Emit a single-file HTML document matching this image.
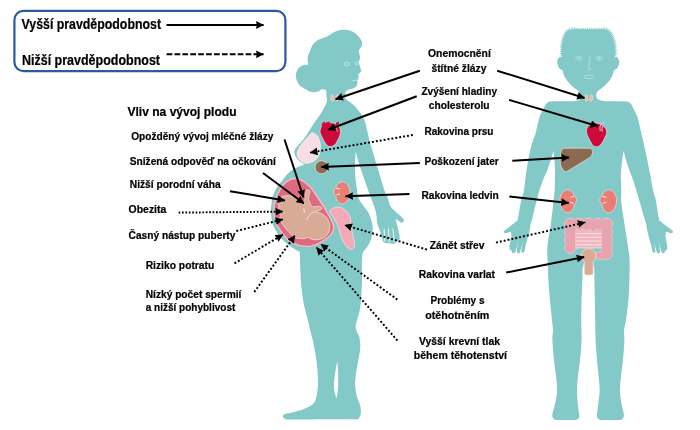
<!DOCTYPE html>
<html><head><meta charset="utf-8">
<style>
html,body{margin:0;padding:0;background:#fff;}
body{width:700px;height:430px;overflow:hidden;}
svg{display:block;will-change:transform;}
text{font-family:"Liberation Sans",sans-serif;font-weight:bold;fill:#000;stroke:#000;stroke-width:0.22px;}
</style></head><body>
<svg width="700" height="430" viewBox="0 0 700 430">
<defs>
<marker id="ah" viewBox="0 0 8 8" refX="7.7" refY="4" markerWidth="7.8" markerHeight="8" markerUnits="userSpaceOnUse" orient="auto"><path d="M0,0 L8,4 L0,8 L0.6,4 Z" fill="#000" stroke="none"/></marker>
<marker id="ah2" viewBox="0 0 8 8" refX="7.7" refY="4" markerWidth="8" markerHeight="7.8" markerUnits="userSpaceOnUse" orient="auto"><path d="M0,0 L8,4 L0,8 L0.5,4 Z" fill="#000" stroke="none"/></marker>
<marker id="ah3" viewBox="0 0 8 8" refX="7.7" refY="4" markerWidth="7.8" markerHeight="7.8" markerUnits="userSpaceOnUse" orient="auto"><path d="M0,0 L8,4 L0,8 L0.4,4 Z" fill="#000" stroke="none"/></marker>
</defs>
<rect width="700" height="430" fill="#fff"/>
<!-- legend -->
<rect x="14.4" y="10.9" width="271" height="60.2" rx="9" ry="9" fill="#fff" stroke="#2c5c97" stroke-width="2.2"/>
<text x="21.5" y="29" font-size="14.4" textLength="139.5" lengthAdjust="spacingAndGlyphs">Vyšší pravděpodobnost</text>
<text x="22" y="64.5" font-size="14.4" textLength="138" lengthAdjust="spacingAndGlyphs">Nižší pravděpodobnost</text>
<line x1="166.5" y1="25" x2="263.6" y2="25" stroke="#000" stroke-width="1.9" marker-end="url(#ah)"/>
<line x1="166.6" y1="54.3" x2="263.6" y2="54.3" stroke="#000" stroke-width="1.9" stroke-dasharray="5.7 2.2" marker-end="url(#ah)"/>

<!-- woman -->
<path d="M326.8,101.7 C327.6,98.9 326.5,97.9 326.4,96.0 C326.3,94.1 326.3,90.4 326.3,90.4 C326.3,90.4 323.6,89.1 322.2,89.3 C320.8,89.5 319.6,91.0 318.0,91.5 C316.4,92.0 314.5,92.4 312.9,92.3 C311.3,92.2 309.8,91.5 308.5,91.0 C307.2,90.5 305.4,89.1 305.4,89.1 C305.4,89.1 300.5,86.7 298.9,84.5 C297.3,82.3 295.9,78.7 295.8,76.1 C295.7,73.5 296.7,70.5 298.0,68.7 C299.3,66.9 301.9,65.6 303.6,65.0 C305.3,64.4 308.2,65.2 308.2,65.2 C308.2,65.2 307.4,59.6 307.6,57.5 C307.8,55.4 308.5,54.6 309.4,52.4 C310.3,50.2 311.6,46.4 312.9,44.4 C314.2,42.4 316.1,41.3 317.4,40.4 C318.7,39.5 319.6,39.4 320.5,39.0 C321.4,38.6 322.0,38.5 323.1,38.1 C324.2,37.7 325.9,37.2 327.0,36.6 C328.1,36.0 328.7,35.5 330.0,34.7 C331.3,33.9 333.2,32.6 334.6,31.9 C336.0,31.2 337.2,30.9 338.5,30.5 C339.8,30.1 341.1,29.9 342.6,29.8 C344.1,29.7 346.0,29.9 347.5,30.1 C349.0,30.4 350.4,30.7 351.7,31.3 C353.0,31.9 354.4,32.6 355.5,33.5 C356.6,34.4 357.7,35.4 358.6,36.4 C359.5,37.4 360.2,38.5 360.8,39.5 C361.4,40.5 361.8,41.2 362.0,42.1 C362.2,43.0 362.0,44.0 361.9,44.8 C361.8,45.6 361.7,45.9 361.2,46.9 C360.7,47.9 359.1,49.3 358.8,50.6 C358.5,51.9 359.3,53.4 359.5,54.7 C359.7,56.0 360.3,57.2 360.2,58.4 C360.1,59.6 358.8,60.2 358.8,61.8 C358.8,63.4 359.9,66.2 360.3,67.8 C360.7,69.3 361.4,70.1 361.2,71.1 C361.0,72.1 359.5,72.9 359.0,73.7 C358.5,74.5 358.3,75.4 358.2,76.1 C358.1,76.8 358.7,77.3 358.6,78.0 C358.5,78.7 357.8,79.3 357.5,80.4 C357.2,81.5 357.6,83.3 357.1,84.5 C356.6,85.7 356.0,87.0 354.7,87.8 C353.4,88.6 350.6,89.0 349.1,89.6 C347.6,90.2 345.6,91.6 345.6,91.6 C345.6,91.6 345.3,94.5 345.2,95.6 C345.1,96.7 344.1,97.0 344.8,98.0 C345.5,99.0 347.8,100.4 349.4,101.7 C351.0,103.0 352.9,104.5 354.5,106.1 C356.1,107.7 357.5,109.4 358.8,111.1 C360.1,112.8 361.2,113.9 362.4,116.1 C363.5,118.2 364.6,120.1 365.7,124.0 C366.8,127.9 368.1,135.2 369.2,139.6 C370.3,144.0 370.9,145.4 372.4,150.5 C373.9,155.6 376.2,163.7 378.3,170.4 C380.4,177.1 383.2,186.5 384.7,190.9 C386.2,195.3 386.4,194.3 387.4,196.9 C388.4,199.5 389.0,203.8 390.6,206.5 C392.2,209.2 395.0,211.0 397.0,212.9 C399.0,214.8 401.6,216.7 402.7,218.0 C403.8,219.3 404.0,219.8 403.9,220.6 C403.8,221.4 402.8,222.6 402.1,222.7 C401.4,222.8 400.6,222.1 399.5,221.4 C398.4,220.7 395.7,218.7 395.7,218.7 C395.7,218.7 397.0,224.1 397.6,227.0 C398.2,229.9 399.2,233.8 399.5,235.9 C399.8,238.0 399.6,238.9 399.3,239.8 C399.0,240.7 398.3,240.9 397.8,241.2 C397.3,241.5 396.7,241.5 396.3,241.8 C395.9,242.1 396.0,242.8 395.5,243.2 C395.0,243.5 394.2,243.8 393.5,243.9 C392.8,244.0 391.7,243.7 391.0,243.6 C390.3,243.5 390.0,243.5 389.3,243.4 C388.6,243.3 387.7,243.3 387.0,243.2 C386.3,243.1 385.6,243.1 385.0,242.9 C384.4,242.7 383.8,242.5 383.4,242.0 C383.0,241.5 383.2,241.5 382.7,239.8 C382.2,238.1 381.2,234.8 380.3,232.0 C379.4,229.2 377.7,225.8 377.1,223.0 C376.5,220.2 376.9,217.8 376.5,215.5 C376.1,213.2 375.9,211.8 375.0,209.0 C374.1,206.2 372.3,201.4 371.4,198.8 C370.5,196.2 370.8,197.4 369.4,193.5 C368.0,189.6 364.8,180.8 363.0,175.6 C361.2,170.3 359.7,166.1 358.5,162.0 C357.3,157.9 355.8,151.2 355.8,151.2 C355.8,151.2 355.2,157.9 355.1,162.0 C355.0,166.1 355.1,171.4 355.3,175.6 C355.6,179.8 356.1,183.3 356.6,187.0 C357.1,190.7 357.5,195.0 358.5,198.0 C359.5,201.0 361.2,202.7 362.8,205.0 C364.4,207.3 366.6,209.7 368.0,212.0 C369.4,214.3 370.2,216.5 371.0,219.0 C371.8,221.5 372.5,224.3 372.7,227.0 C372.9,229.7 372.6,232.4 372.1,235.0 C371.6,237.6 370.7,240.4 369.8,242.5 C368.9,244.6 367.9,245.8 366.8,247.5 C365.7,249.2 363.8,250.0 363.0,252.5 C362.2,255.0 362.1,256.9 361.9,262.3 C361.7,267.7 362.2,277.2 361.9,284.6 C361.6,292.1 361.1,301.1 360.3,307.0 C359.5,312.9 357.8,317.0 357.0,320.3 C356.2,323.6 355.6,324.9 355.7,327.0 C355.8,329.1 356.8,331.4 357.4,333.0 C358.0,334.6 358.7,334.0 359.2,336.5 C359.7,339.0 360.5,343.7 360.3,347.8 C360.1,351.9 358.8,356.7 358.1,361.2 C357.4,365.7 356.4,370.5 355.9,374.6 C355.4,378.7 355.0,382.1 355.2,385.8 C355.4,389.5 356.1,393.6 357.0,396.9 C357.9,400.2 359.7,402.8 360.3,405.8 C360.9,408.8 361.0,412.6 360.6,414.8 C360.2,417.0 358.1,419.2 358.1,419.2 C358.1,419.2 285.6,419.4 285.6,419.4 C285.6,419.4 283.1,417.6 282.9,416.8 C282.7,416.0 282.9,415.0 284.5,414.3 C286.1,413.6 289.1,413.4 292.3,412.5 C295.5,411.6 300.0,410.7 303.5,409.2 C307.0,407.7 311.3,406.0 313.5,403.6 C315.7,401.2 316.1,398.4 316.8,394.7 C317.6,391.0 318.0,386.5 318.0,381.3 C318.0,376.1 317.6,369.8 316.8,363.5 C316.1,357.2 314.6,349.0 313.5,343.4 C312.4,337.8 311.3,334.6 310.2,330.0 C309.1,325.4 307.9,320.4 306.8,315.8 C305.7,311.2 304.4,307.7 303.5,302.5 C302.6,297.3 301.8,291.3 301.2,284.6 C300.6,277.9 300.3,267.7 300.1,262.3 C299.9,256.9 300.0,252.0 300.0,252.0 C300.0,252.0 295.5,249.7 293.0,248.0 C290.5,246.3 287.5,244.3 285.0,242.0 C282.5,239.7 279.9,236.7 278.0,234.0 C276.1,231.3 274.6,228.7 273.5,226.0 C272.4,223.3 271.9,220.7 271.5,218.0 C271.1,215.3 271.0,212.5 271.0,210.0 C271.0,207.5 271.2,205.3 271.5,203.0 C271.8,200.7 272.3,198.2 273.0,196.0 C273.7,193.8 274.7,191.7 275.5,190.0 C276.3,188.3 276.9,187.5 278.0,186.0 C279.1,184.5 280.6,182.8 282.0,181.0 C283.4,179.2 284.8,176.8 286.5,175.0 C288.2,173.2 290.1,171.3 292.0,170.0 C293.9,168.7 295.9,167.9 298.0,167.0 C300.1,166.1 304.5,164.8 304.5,164.8 C304.5,164.8 299.5,161.4 297.8,159.5 C296.1,157.6 294.9,155.2 294.5,153.4 C294.1,151.6 294.3,150.6 295.6,148.5 C296.9,146.4 300.2,143.3 302.3,140.7 C304.4,138.1 306.0,135.7 307.9,132.9 C309.8,130.1 311.3,127.3 313.5,124.0 C315.7,120.7 319.1,116.5 321.3,112.8 C323.5,109.1 326.0,104.5 326.8,101.7 Z" fill="#82c9c8"/>
<path d="M337.4,361.2 C337.4,361.2 336.1,366.6 335.6,370.0 C335.1,373.4 334.4,378.0 334.2,381.3 C334.0,384.6 333.8,387.1 334.2,390.0 C334.6,392.9 336.5,398.5 336.5,398.5 C336.5,398.5 337.7,392.9 338.0,390.0 C338.3,387.1 338.2,384.2 338.2,381.0 C338.2,377.8 338.1,374.3 338.0,371.0 C337.9,367.7 337.4,361.2 337.4,361.2 Z" fill="#fff"/>
<path d="M392.9,228.9 L394.4,242 M388.4,228.9 L389.2,242 M384.2,229.5 L384.6,241" stroke="#fff" stroke-width="0.9" fill="none" stroke-linecap="round"/>
<g fill="none" stroke="#d4eeed" stroke-width="0.8"><ellipse cx="346.8" cy="64" rx="2.8" ry="1.6"/><ellipse cx="356.6" cy="63.2" rx="1.6" ry="1.4"/><path d="M352.5,80.8 L357,80"/></g>
<!-- man -->
<path d="M579.0,100.1 C579.8,99.6 580.1,99.0 580.3,98.0 C580.5,97.0 580.2,95.1 580.0,94.0 C579.8,92.9 579.8,92.5 579.0,91.6 C578.2,90.7 576.2,89.6 575.0,88.6 C573.8,87.6 572.8,86.9 571.5,85.6 C570.2,84.3 568.2,82.2 567.0,80.6 C565.8,79.0 565.0,77.7 564.2,76.0 C563.4,74.3 563.2,71.5 562.3,70.2 C561.4,68.9 559.9,69.5 559.0,68.0 C558.1,66.5 557.1,63.1 557.2,61.3 C557.3,59.5 558.8,57.6 559.5,57.0 C560.2,56.4 561.7,57.5 561.7,57.5 C561.7,57.5 562.0,52.6 562.2,50.0 C562.5,47.4 562.7,44.3 563.2,42.0 C563.7,39.7 564.5,37.7 565.4,36.0 C566.3,34.3 567.2,32.9 568.5,32.0 C569.8,31.1 571.1,30.8 573.0,30.5 C574.9,30.2 577.4,30.3 580.0,30.2 C582.6,30.1 585.7,30.1 588.5,30.1 C591.3,30.1 594.6,30.1 597.0,30.2 C599.4,30.3 601.2,30.2 603.0,30.5 C604.8,30.8 606.5,31.1 607.8,32.0 C609.1,32.9 610.1,34.3 611.0,36.0 C611.9,37.7 612.7,39.7 613.2,42.0 C613.8,44.3 614.0,47.4 614.3,50.0 C614.6,52.6 614.9,57.5 614.9,57.5 C614.9,57.5 616.3,56.4 617.0,57.0 C617.7,57.6 619.2,59.5 619.3,61.3 C619.4,63.1 618.4,66.5 617.5,68.0 C616.6,69.5 615.1,68.9 614.2,70.2 C613.3,71.5 613.0,74.3 612.2,76.0 C611.4,77.7 610.6,79.0 609.4,80.6 C608.2,82.2 606.2,84.3 604.9,85.6 C603.6,86.9 602.6,87.6 601.4,88.6 C600.1,89.6 598.2,90.7 597.4,91.6 C596.6,92.5 596.6,93.3 596.4,94.0 C596.2,94.7 596.2,95.3 596.3,96.0 C596.4,96.7 596.7,97.7 597.1,98.3 C597.5,98.9 597.9,99.4 598.9,99.8 C599.9,100.2 601.7,100.7 603.2,100.9 C604.8,101.1 604.4,101.1 608.2,101.2 C612.0,101.3 622.4,101.2 625.9,101.4 C629.4,101.6 628.1,101.7 629.0,102.3 C629.9,102.9 630.5,103.3 631.5,104.8 C632.5,106.3 633.8,109.4 634.8,111.5 C635.8,113.6 636.4,113.7 637.5,117.3 C638.6,120.9 639.9,127.0 641.3,133.0 C642.7,138.9 644.3,145.9 645.8,153.0 C647.3,160.1 649.1,169.0 650.3,175.3 C651.5,181.6 652.3,186.9 653.2,191.0 C654.1,195.1 654.8,195.3 655.8,200.0 C656.8,204.7 658.1,215.4 659.0,219.0 C659.9,222.6 659.7,220.4 660.9,221.6 C662.1,222.8 664.6,224.7 666.3,226.0 C668.0,227.3 670.1,228.9 671.1,229.7 C672.1,230.5 672.2,230.2 672.5,230.6 C672.8,231.0 673.1,231.9 672.9,232.3 C672.7,232.8 671.9,233.2 671.3,233.3 C670.7,233.4 670.2,233.1 669.3,232.8 C668.4,232.5 666.0,231.4 666.0,231.4 C666.0,231.4 665.3,234.1 665.4,235.7 C665.5,237.3 666.1,239.1 666.4,241.0 C666.7,242.9 667.3,245.7 667.3,247.2 C667.3,248.7 667.1,249.7 666.6,250.1 C666.1,250.5 664.7,251.2 664.1,249.5 C663.5,247.8 662.8,240.2 662.8,240.2 C662.8,240.2 664.9,248.8 665.0,251.0 C665.1,253.2 664.2,253.0 663.6,253.1 C663.0,253.2 662.3,253.8 661.4,251.7 C660.5,249.5 658.3,240.2 658.3,240.2 C658.3,240.2 660.0,249.1 660.0,251.3 C660.0,253.5 659.1,253.2 658.6,253.3 C658.1,253.4 657.5,253.8 656.7,251.7 C655.9,249.6 653.9,240.8 653.9,240.8 C653.9,240.8 655.4,249.0 655.4,251.0 C655.4,253.0 654.6,252.8 654.1,252.8 C653.6,252.9 653.0,252.5 652.5,251.3 C652.0,250.2 651.9,248.3 651.3,245.9 C650.7,243.5 649.5,240.0 648.8,237.0 C648.0,234.0 647.2,230.2 646.8,228.0 C646.4,225.8 646.6,225.7 646.2,224.0 C645.8,222.3 645.5,221.8 644.3,217.8 C643.1,213.8 641.0,206.3 639.1,200.0 C637.2,193.7 635.0,185.6 633.1,180.0 C631.2,174.4 629.6,171.3 628.0,166.4 C626.4,161.5 623.5,150.8 623.5,150.8 C623.5,150.8 622.5,158.0 622.0,162.0 C621.5,166.0 620.9,170.2 620.8,175.0 C620.7,179.8 621.2,186.4 621.3,191.0 C621.4,195.6 620.8,196.7 621.3,202.3 C621.8,207.9 623.5,217.2 624.6,224.6 C625.7,232.0 627.2,241.0 628.0,246.9 C628.8,252.8 629.4,254.5 629.6,260.0 C629.8,265.5 629.6,273.3 629.4,280.0 C629.2,286.7 629.0,293.3 628.4,300.0 C627.8,306.7 626.7,315.0 626.0,320.0 C625.3,325.0 624.3,326.7 624.0,330.0 C623.7,333.3 624.6,335.0 624.4,340.0 C624.2,345.0 623.6,354.0 623.0,360.0 C622.4,366.0 621.5,370.7 621.0,376.0 C620.5,381.3 619.8,387.0 620.0,392.0 C620.2,397.0 621.4,402.3 622.0,406.0 C622.6,409.7 623.6,412.0 623.8,414.0 C624.0,416.0 623.8,417.0 623.2,418.0 C622.7,419.0 620.5,420.0 620.5,420.0 C620.5,420.0 600.0,420.0 600.0,420.0 C600.0,420.0 597.8,418.9 597.3,418.0 C596.8,417.1 596.9,416.5 597.0,414.5 C597.1,412.5 597.6,409.8 598.0,406.0 C598.4,402.2 599.4,396.3 599.6,392.0 C599.8,387.7 599.4,385.3 599.0,380.0 C598.6,374.7 597.6,366.7 597.0,360.0 C596.4,353.3 595.9,346.7 595.6,340.0 C595.3,333.3 595.3,326.7 595.2,320.0 C595.1,313.3 594.9,306.7 594.8,300.0 C594.7,293.3 594.5,285.3 594.4,280.0 C594.3,274.7 594.6,270.8 594.2,268.0 C593.8,265.2 593.0,264.1 592.0,263.0 C591.0,261.9 589.6,261.5 588.4,261.5 C587.2,261.5 585.8,261.9 584.8,263.0 C583.8,264.1 583.0,265.2 582.6,268.0 C582.2,270.8 582.6,274.7 582.4,280.0 C582.2,285.3 581.8,293.3 581.6,300.0 C581.4,306.7 581.2,313.3 581.2,320.0 C581.2,326.7 581.8,333.3 581.6,340.0 C581.4,346.7 580.6,354.0 580.0,360.0 C579.4,366.0 578.5,370.7 578.0,376.0 C577.5,381.3 577.0,387.0 577.0,392.0 C577.0,397.0 577.6,402.2 578.0,406.0 C578.4,409.8 579.1,412.5 579.2,414.5 C579.4,416.5 579.4,417.1 578.9,418.0 C578.4,418.9 576.3,420.0 576.3,420.0 C576.3,420.0 555.8,420.0 555.8,420.0 C555.8,420.0 553.6,419.0 553.0,418.0 C552.4,417.0 552.1,416.3 552.4,414.0 C552.7,411.7 554.2,407.7 555.0,404.0 C555.8,400.3 556.8,396.0 557.0,392.0 C557.2,388.0 556.9,385.3 556.4,380.0 C555.9,374.7 554.7,366.7 554.0,360.0 C553.3,353.3 552.6,345.0 552.4,340.0 C552.2,335.0 553.1,333.3 553.0,330.0 C552.9,326.7 552.5,325.0 552.0,320.0 C551.5,315.0 550.6,306.7 550.0,300.0 C549.4,293.3 548.8,286.7 548.4,280.0 C548.0,273.3 547.8,265.5 547.6,260.0 C547.4,254.5 546.9,252.8 547.4,246.9 C547.9,241.0 549.8,232.0 550.8,224.6 C551.8,217.2 552.8,207.9 553.4,202.3 C554.0,196.7 554.3,195.6 554.6,191.0 C554.9,186.4 555.0,179.8 555.0,175.0 C555.0,170.2 554.9,166.0 554.6,162.0 C554.4,158.0 553.5,150.8 553.5,150.8 C553.5,150.8 549.8,163.7 548.0,168.6 C546.2,173.5 544.8,175.1 543.0,180.0 C541.2,184.9 539.1,191.5 537.4,197.8 C535.6,204.1 533.6,213.4 532.5,217.8 C531.4,222.2 531.0,222.3 530.6,224.0 C530.2,225.7 530.4,225.8 530.0,228.0 C529.6,230.2 528.8,234.0 528.0,237.0 C527.2,240.0 526.1,243.5 525.5,245.9 C524.9,248.3 524.8,250.2 524.3,251.3 C523.8,252.5 523.2,252.9 522.7,252.8 C522.2,252.8 521.4,253.0 521.4,251.0 C521.4,249.0 522.9,240.8 522.9,240.8 C522.9,240.8 520.9,249.6 520.1,251.7 C519.3,253.8 518.8,253.4 518.2,253.3 C517.7,253.2 516.8,253.5 516.8,251.3 C516.8,249.1 518.5,240.2 518.5,240.2 C518.5,240.2 516.3,249.5 515.4,251.7 C514.5,253.8 513.8,253.2 513.2,253.1 C512.6,253.0 511.7,253.2 511.8,251.0 C511.9,248.8 514.0,240.2 514.0,240.2 C514.0,240.2 513.3,247.8 512.7,249.5 C512.1,251.2 510.7,250.5 510.2,250.1 C509.7,249.7 509.5,248.7 509.5,247.2 C509.5,245.7 510.1,242.9 510.4,241.0 C510.7,239.1 511.3,237.3 511.4,235.7 C511.5,234.1 510.8,231.4 510.8,231.4 C510.8,231.4 508.4,232.5 507.5,232.8 C506.6,233.1 506.1,233.4 505.5,233.3 C504.9,233.2 504.1,232.8 503.9,232.3 C503.7,231.9 504.0,231.0 504.3,230.6 C504.6,230.2 504.7,230.5 505.7,229.7 C506.7,228.9 508.8,227.3 510.5,226.0 C512.2,224.7 514.7,222.8 515.9,221.6 C517.1,220.4 516.9,222.6 517.8,219.0 C518.7,215.4 520.2,204.7 521.2,200.0 C522.2,195.3 522.9,196.2 523.8,191.0 C524.7,185.8 525.6,176.0 526.8,168.6 C528.0,161.2 529.7,152.2 531.2,146.3 C532.7,140.4 534.3,137.8 535.7,133.0 C537.1,128.2 538.4,120.9 539.5,117.3 C540.6,113.7 541.2,113.6 542.2,111.5 C543.2,109.4 544.5,106.3 545.5,104.8 C546.5,103.3 547.1,102.9 548.0,102.3 C548.9,101.7 547.1,101.6 551.1,101.4 C555.1,101.2 568.1,101.4 572.2,101.3 C576.3,101.2 574.7,101.2 575.8,101.0 C576.9,100.8 578.2,100.6 579.0,100.1 Z" fill="#82c9c8"/>
<path d="M561.9,56.0 L559.6,54.6 L561.9,54.7 L559.6,53.1 L561.8,52.9 L559.5,51.1 L561.8,50.9 L559.6,49.1 L561.9,49.0 L559.7,47.1 L562.0,47.2 L559.9,45.3 L562.2,45.4 L560.1,43.4 L562.5,43.7 L560.4,41.6 L562.8,42.0 L560.7,39.9 L563.2,40.4 L561.1,38.2 L563.6,38.8 L561.6,36.6 L564.1,37.4 L562.2,35.0 L564.6,36.0 L562.8,33.6 L565.2,34.7 L563.5,32.2 L565.9,33.5 L564.4,30.9 L566.6,32.5 L565.4,29.6 L567.5,31.6 L566.7,28.6 L568.4,31.0 L568.0,27.8 L569.4,30.5 L569.4,27.4 L570.6,30.2 L570.9,27.0 L572.0,30.0 L572.7,26.8 L573.7,29.8 L574.7,26.7 L575.8,29.8 L576.8,27.5 L577.9,29.8 L578.9,27.5 L580.0,29.8 L581.0,27.5 L582.1,29.8 L583.1,27.4 L584.2,29.7 L585.3,27.4 L586.4,29.7 L587.4,27.4 L588.5,29.7 L589.6,27.4 L590.7,29.7 L591.8,27.4 L592.8,29.7 L593.9,27.4 L595.0,29.8 L596.0,27.5 L597.0,29.8 L598.0,27.5 L598.9,29.8 L599.8,27.5 L600.8,29.8 L601.6,27.5 L602.5,29.8 L603.5,26.2 L604.0,30.0 L605.2,26.5 L605.3,30.2 L606.6,26.8 L606.5,30.5 L608.1,27.3 L607.5,31.0 L609.6,28.1 L608.5,31.6 L611.0,29.1 L609.4,32.5 L612.1,30.4 L610.2,33.5 L613.0,31.8 L610.9,34.7 L613.8,33.2 L611.6,36.0 L614.6,34.7 L612.2,37.4 L615.2,36.3 L612.7,38.8 L615.7,38.0 L613.2,40.4 L616.2,39.7 L613.6,42.0 L616.6,41.5 L613.9,43.7 L616.9,43.3 L614.2,45.4 L617.2,45.2 L614.4,47.2 L617.4,47.0 L614.6,49.0 L617.6,49.0 L614.7,50.9 L617.6,51.1 L614.8,52.9 L617.7,53.0 L614.8,54.7 L617.7,54.5 L614.8,56.0 L600.0,52.0 L577.0,52.0 Z" fill="#82c9c8"/>
<g fill="none" stroke="#c4e7e6" stroke-width="0.7"><ellipse cx="579" cy="58.4" rx="3.4" ry="1.7"/><ellipse cx="599" cy="58.4" rx="3.4" ry="1.7"/><circle cx="579" cy="58.4" r="0.8"/><circle cx="599" cy="58.4" r="0.8"/><path d="M590.2,55.5 L588.6,68.8 L592.6,70"/><ellipse cx="589.1" cy="76.8" rx="5.4" ry="1.7"/></g>
<!-- woman organs -->
<g fill="#efb6a5" stroke="#fbe9e3" stroke-width="0.5"><ellipse cx="332.3" cy="97.8" rx="1.35" ry="3.4" transform="rotate(-6 332.3 97.8)"/><ellipse cx="337.1" cy="97.8" rx="1.35" ry="3.4" transform="rotate(6 337.1 97.8)"/><rect x="333.2" y="98.7" width="3" height="1.4" stroke="none"/></g>
<path d="M320.0,131.4 C320.0,130.3 320.3,128.9 320.7,127.9 C321.1,126.9 321.8,126.0 322.6,125.2 C323.5,124.5 324.6,123.8 325.8,123.4 C327.1,123.0 328.7,122.6 330.1,122.6 C331.5,122.6 333.1,123.0 334.4,123.4 C335.7,123.9 337.0,124.5 337.9,125.3 C338.8,126.1 339.6,127.2 340.0,128.3 C340.4,129.4 340.6,130.6 340.6,131.8 C340.6,133.0 340.2,134.3 339.8,135.7 C339.4,137.1 338.6,138.7 337.9,140.0 C337.2,141.3 336.5,142.8 335.7,143.8 C334.9,144.8 334.0,145.5 333.1,146.0 C332.2,146.5 331.1,146.8 330.1,146.7 C329.1,146.6 328.0,146.4 327.1,145.6 C326.2,144.8 325.3,143.4 324.5,142.1 C323.7,140.8 323.0,139.1 322.4,137.8 C321.8,136.5 321.1,135.5 320.7,134.4 C320.3,133.3 320.0,132.5 320.0,131.4 Z" fill="#cd0a3a" stroke="#c9eceb" stroke-width="0.8"/>
<path d="M322.3,124.6 C322.6,122.6 324,121.6 325.3,122.4 M325.6,123.2 C326.6,121.8 328.6,121.6 329.6,122.6 M336.200,125.8 C336.200,124 337,122.600 338.600,122.400 M337.600,131.500 C336.800,130.200 336.400,128.800 336.600,127.600" fill="none" stroke="#f3b0bd" stroke-width="1" stroke-linecap="round"/>
<path d="M321.800,126 C321.600,123.500 323,121.700 324.700,122 C325.500,122.200 325.700,123 325.400,123.800 C326.300,122 328.300,121.300 329.700,122.200 L330,124.500 Z M335.600,124.500 C335.800,122.800 337,121.800 338.500,121.800 C339.200,122 339.200,122.800 338.700,123.400 L338.200,126.500 Z" fill="#cd0a3a"/>
<path d="M312.5,132.7 C313.6,132.6 315.0,133.6 316.0,134.5 C317.0,135.4 317.8,136.2 318.5,138.0 C319.2,139.8 320.1,142.4 320.3,145.0 C320.5,147.6 320.1,151.2 319.5,153.5 C318.9,155.8 317.8,157.6 316.5,159.0 C315.2,160.4 313.8,161.3 312.0,162.0 C310.2,162.7 307.5,163.5 305.5,163.2 C303.5,162.9 301.4,161.4 300.0,160.0 C298.6,158.6 297.4,156.4 297.2,154.5 C297.0,152.6 297.9,150.4 298.8,148.5 C299.7,146.6 301.2,144.7 302.5,143.0 C303.8,141.3 305.3,139.8 306.5,138.5 C307.7,137.2 308.5,136.0 309.5,135.0 C310.5,134.0 311.4,132.8 312.5,132.7 Z" fill="#f9dde5" stroke="#fdf1f4" stroke-width="0.8"/>
<circle cx="321.6" cy="167.3" r="6.6" fill="#8a6a50" stroke="#e6d6ca" stroke-width="0.9"/>
<path d="M343.5,181.8 C342.4,181.6 341.1,181.8 340.0,182.3 C339.0,182.7 338.0,183.7 337.3,184.5 C336.7,185.3 336.5,186.3 336.1,186.9 C335.8,187.6 335.4,187.7 335.0,188.3 C334.6,188.9 334.0,189.9 333.8,190.6 C333.6,191.4 333.6,191.9 333.8,192.7 C334.0,193.5 334.6,194.7 335.0,195.4 C335.3,196.1 335.7,196.0 335.9,196.7 C336.2,197.5 336.1,198.7 336.6,199.7 C337.2,200.8 338.2,202.1 339.1,202.8 C340.0,203.6 341.0,204.2 342.1,204.2 C343.2,204.2 344.5,203.6 345.5,202.8 C346.5,202.1 347.5,200.7 348.2,199.5 C348.9,198.2 349.4,196.5 349.7,195.1 C350.0,193.7 350.1,192.4 350.0,191.0 C349.9,189.7 349.5,188.2 348.9,186.9 C348.4,185.7 347.5,184.4 346.6,183.5 C345.7,182.7 344.6,182.0 343.5,181.8 Z" fill="#eb7d74" stroke="#c5e8e7" stroke-width="0.8"/>
<path d="M336.5,188.2 L339.600,189 M336.800,194.800 L339.600,194" stroke="#fff" stroke-width="0.9" fill="none" stroke-linecap="round"/>
<path d="M294.8,178.6 C296.6,178.5 298.4,178.9 300.1,179.6 C301.8,180.2 303.4,181.3 305.0,182.5 C306.6,183.7 308.2,184.9 309.9,186.6 C311.5,188.3 313.1,190.7 314.7,193.0 C316.4,195.2 318.2,198.1 319.6,200.3 C321.1,202.5 322.4,204.4 323.5,206.2 C324.7,208.0 325.3,209.1 326.4,211.1 C327.6,213.0 329.2,215.6 330.3,217.9 C331.5,220.2 332.7,222.9 333.3,224.7 C333.8,226.5 333.9,227.1 333.6,228.7 C333.2,230.2 332.2,232.6 331.3,234.0 C330.5,235.4 330.0,235.7 328.4,237.0 C326.8,238.3 323.8,240.5 321.6,241.9 C319.3,243.2 317.0,244.3 314.7,245.1 C312.5,245.9 310.4,246.4 307.9,246.5 C305.5,246.5 302.9,246.3 300.1,245.6 C297.3,244.8 293.8,243.9 291.0,242.1 C288.1,240.2 285.2,237.1 283.0,234.3 C280.7,231.6 279.0,228.3 277.6,225.5 C276.2,222.8 275.3,220.5 274.7,217.9 C274.1,215.3 273.9,213.0 274.0,210.1 C274.1,207.1 274.5,203.3 275.3,200.3 C276.0,197.3 277.3,194.6 278.7,192.0 C280.0,189.4 281.8,186.6 283.5,184.6 C285.2,182.7 287.0,181.3 288.9,180.2 C290.8,179.2 292.9,178.7 294.8,178.6 Z" fill="#dc6a80" stroke="#f3bcc7" stroke-width="1.5"/>
<path d="M305.8,192.5 C305.9,191.6 305.9,190.8 306.2,190.4 C306.5,190.0 307.2,189.8 307.8,189.8 C308.4,189.8 309.2,190.1 309.6,190.6 C310.0,191.1 310.1,191.9 310.0,192.6 C309.9,193.3 309.2,193.9 309.0,195.0 C308.8,196.1 308.4,197.6 308.6,199.0 C308.8,200.4 309.5,202.2 310.2,203.5 C310.9,204.8 311.6,206.1 312.6,206.6 C313.6,207.1 314.9,206.7 316.0,206.6 C317.1,206.5 318.6,206.1 319.5,206.2 C320.4,206.3 321.3,206.7 321.6,207.2 C321.9,207.7 322.0,208.6 321.4,209.2 C320.8,209.8 319.2,210.3 318.0,210.8 C316.8,211.3 315.1,211.6 314.0,212.0 C312.9,212.4 311.3,213.4 311.3,213.4 C311.3,213.4 314.3,212.3 316.0,212.3 C317.7,212.3 319.9,212.7 321.6,213.6 C323.3,214.5 325.1,215.9 326.4,217.5 C327.7,219.1 328.8,221.1 329.3,223.0 C329.9,224.9 330.0,227.1 329.7,229.0 C329.4,230.9 328.7,232.8 327.6,234.3 C326.5,235.8 324.9,237.1 323.3,238.0 C321.7,238.9 319.8,239.3 318.0,239.6 C316.2,239.8 314.1,239.9 312.5,239.5 C310.9,239.1 308.2,237.2 308.2,237.2 C308.2,237.2 306.2,238.4 305.0,238.6 C303.8,238.8 302.4,238.7 301.0,238.6 C299.6,238.5 298.0,238.6 296.4,238.0 C294.8,237.4 293.0,236.1 291.4,234.8 C289.8,233.5 288.5,231.8 287.0,230.1 C285.5,228.4 283.8,226.1 282.6,224.4 C281.4,222.7 280.4,220.9 279.9,219.8 C279.4,218.7 279.3,218.3 279.5,217.6 C279.7,216.9 281.1,216.3 281.0,215.5 C280.9,214.7 279.2,214.0 278.6,213.0 C278.0,212.0 277.5,210.7 277.6,209.5 C277.7,208.3 279.0,207.0 279.0,206.0 C279.0,205.0 277.7,204.4 277.6,203.5 C277.5,202.6 277.7,201.5 278.2,200.5 C278.7,199.5 279.4,198.3 280.5,197.5 C281.6,196.7 283.2,196.1 285.0,195.8 C286.8,195.6 289.2,195.6 291.0,196.0 C292.8,196.4 294.3,197.1 296.0,198.0 C297.7,198.9 299.6,200.4 301.0,201.5 C302.4,202.6 304.4,204.5 304.4,204.5 C304.4,204.5 304.6,201.4 304.8,200.0 C305.0,198.6 305.1,197.2 305.3,196.0 C305.5,194.8 305.7,193.4 305.8,192.5 Z" fill="#d9ab97" stroke="#f3ddd3" stroke-width="0.8"/>
<path d="M303.900,208.800 L304.200,212.500" stroke="#f7e9e2" stroke-width="1" fill="none" stroke-linecap="round"/>
<path d="M307,219.500 C307.500,216.500 309.500,214.500 312.500,213.300" stroke="#f7e3dc" stroke-width="0.9" fill="none" stroke-linecap="round"/>
<path d="M309.500,216 C311,214 313.500,212.800 316,212.400" stroke="#e79aa8" stroke-width="0.8" fill="none"/>
<path d="M329.5,210.9 C329.5,210.9 332.2,208.3 334.0,207.7 C335.8,207.1 338.3,206.8 340.3,207.3 C342.3,207.8 344.5,209.4 346.1,210.9 C347.7,212.4 349.0,214.2 349.9,216.6 C350.8,219.0 350.8,222.8 351.2,225.6 C351.6,228.4 352.0,230.4 352.5,233.2 C353.0,236.0 354.0,239.8 354.3,242.2 C354.6,244.5 354.7,246.1 354.2,247.3 C353.7,248.5 352.4,249.3 351.2,249.2 C349.9,249.1 348.2,248.3 346.7,246.7 C345.2,245.1 343.5,242.0 342.3,239.6 C341.1,237.2 340.4,234.3 339.7,232.0 C338.9,229.7 338.6,227.7 337.8,225.6 C337.0,223.5 335.7,221.1 334.6,219.2 C333.5,217.3 332.2,215.5 331.4,214.1 C330.5,212.7 329.5,210.9 329.5,210.9 Z" fill="#f3aab8" stroke="#fbdce3" stroke-width="0.8"/>
<!-- man organs -->
<g fill="#efb6a5" stroke="#fbe9e3" stroke-width="0.5"><ellipse cx="586.4" cy="98.0" rx="1.35" ry="3.4" transform="rotate(-6 586.4 98.0)"/><ellipse cx="591.2" cy="98.0" rx="1.35" ry="3.4" transform="rotate(6 591.2 98.0)"/><rect x="587.3" y="98.9" width="3" height="1.4" stroke="none"/></g>
<path d="M586.3,131.2 C586.3,130.2 586.5,129.1 586.9,128.2 C587.3,127.3 587.9,126.3 588.8,125.6 C589.7,124.9 591.1,124.3 592.3,123.9 C593.5,123.5 594.9,123.0 596.2,123.0 C597.5,123.0 598.8,123.4 600.0,123.9 C601.2,124.4 602.5,125.2 603.5,126.0 C604.5,126.8 605.3,127.7 605.8,128.6 C606.3,129.5 606.7,130.5 606.7,131.6 C606.8,132.7 606.5,133.9 606.1,135.1 C605.7,136.3 604.9,137.6 604.3,138.9 C603.6,140.2 602.9,141.7 602.2,142.8 C601.5,143.9 600.9,144.7 600.0,145.4 C599.1,146.1 597.8,146.9 596.6,146.9 C595.5,146.9 594.1,146.5 593.1,145.7 C592.1,144.9 591.4,143.3 590.6,142.0 C589.8,140.7 589.0,138.9 588.4,137.6 C587.8,136.3 587.2,135.3 586.9,134.2 C586.5,133.1 586.3,132.2 586.3,131.2 Z" fill="#cd0a3a" stroke="#c9eceb" stroke-width="0.8"/>
<path d="M600.200,130.500 C599.300,127.500 600.200,124.500 602.600,123 C603.800,122.300 604.600,122.800 604.300,123.600 M602.300,131.300 C601.600,129 602,127 603.200,125.600" fill="none" stroke="#f8c6ce" stroke-width="1" stroke-linecap="round"/>
<path d="M562.2,149.6 C562.7,149.0 561.4,148.5 564.5,148.3 C567.6,148.1 585.4,148.1 588.5,148.2 C591.6,148.3 591.0,148.8 591.5,149.2 C592.0,149.6 592.7,151.1 592.7,151.8 C592.7,152.5 592.2,154.5 591.8,155.2 C591.4,155.9 591.8,156.2 589.0,158.0 C586.2,159.8 570.8,169.2 568.0,170.8 C565.2,172.4 565.9,171.7 565.3,171.6 C564.7,171.5 563.5,170.7 563.0,170.0 C562.5,169.3 561.3,167.1 561.0,166.0 C560.7,164.9 560.1,162.0 560.1,160.5 C560.1,159.0 560.4,154.8 560.6,153.5 C560.8,152.2 561.7,150.2 562.2,149.6 Z" fill="#8a6a50" stroke="#e3d3c6" stroke-width="0.9"/>
<path d="M566.5,189.8 C567.6,189.6 569.0,189.8 570.0,190.3 C571.0,190.8 572.1,191.8 572.8,192.6 C573.5,193.4 573.6,194.4 574.0,195.1 C574.4,195.8 574.8,195.9 575.2,196.5 C575.6,197.1 576.2,198.2 576.4,198.9 C576.6,199.7 576.6,200.2 576.4,201.0 C576.2,201.8 575.6,203.1 575.2,203.8 C574.8,204.5 574.5,204.4 574.2,205.2 C573.9,205.9 574.0,207.2 573.5,208.3 C573.0,209.4 571.9,210.7 571.0,211.5 C570.1,212.3 569.0,212.9 567.9,212.9 C566.8,212.9 565.4,212.3 564.4,211.5 C563.4,210.7 562.3,209.3 561.6,208.0 C560.9,206.7 560.4,204.9 560.1,203.5 C559.8,202.1 559.7,200.7 559.8,199.3 C559.9,197.9 560.3,196.4 560.9,195.1 C561.5,193.8 562.4,192.5 563.3,191.6 C564.2,190.7 565.4,190.0 566.5,189.8 Z" fill="#eb7d74" stroke="#c5e8e7" stroke-width="0.8"/>
<path d="M609.9,189.8 C608.8,189.6 607.5,189.8 606.4,190.3 C605.4,190.8 604.3,191.8 603.6,192.6 C602.9,193.4 602.8,194.4 602.4,195.1 C602.0,195.8 601.6,195.9 601.2,196.5 C600.8,197.1 600.2,198.2 600.0,198.9 C599.8,199.7 599.8,200.2 600.0,201.0 C600.2,201.8 600.8,203.1 601.2,203.8 C601.6,204.5 601.9,204.4 602.2,205.2 C602.5,205.9 602.4,207.2 602.9,208.3 C603.4,209.4 604.5,210.7 605.4,211.5 C606.3,212.3 607.4,212.9 608.5,212.9 C609.6,212.9 611.0,212.3 612.0,211.5 C613.1,210.7 614.1,209.3 614.8,208.0 C615.5,206.7 616.0,204.9 616.3,203.5 C616.6,202.1 616.7,200.7 616.6,199.3 C616.5,197.9 616.1,196.4 615.5,195.1 C614.9,193.8 614.0,192.5 613.1,191.6 C612.2,190.7 611.0,190.0 609.9,189.8 Z" fill="#eb7d74" stroke="#c5e8e7" stroke-width="0.8"/>
<path d="M573.6,196.400 L570.500,197.200 M573.300,203.200 L570.500,202.400 M602.800,196.400 L605.900,197.200 M603.100,203.200 L605.900,202.400" stroke="#fff" stroke-width="0.9" fill="none" stroke-linecap="round"/>
<g fill="#e8a4ae" stroke="#f6d3d8" stroke-width="0.9">
<circle cx="570.6" cy="224.1" r="5.9"/>
<circle cx="579.6" cy="224.1" r="5.9"/>
<circle cx="588.5" cy="224.1" r="5.9"/>
<circle cx="597.5" cy="224.1" r="5.9"/>
<circle cx="606.5" cy="224.1" r="5.9"/>
<circle cx="570.4" cy="232.3" r="5.7"/>
<circle cx="570.4" cy="239.9" r="5.7"/>
<circle cx="570.4" cy="247.6" r="5.7"/>
<circle cx="606.7" cy="232.3" r="5.6"/>
<circle cx="606.7" cy="239.4" r="5.6"/>
<circle cx="606.7" cy="246.5" r="5.6"/>
<circle cx="606.7" cy="253.6" r="5.6"/>
<circle cx="603.5" cy="255.4" r="3.9"/>
<circle cx="599.5" cy="255.6" r="3.9"/>
</g>
<g fill="#e8a4ae" stroke="none">
<circle cx="570.6" cy="224.1" r="5.7"/>
<circle cx="579.6" cy="224.1" r="5.7"/>
<circle cx="588.5" cy="224.1" r="5.7"/>
<circle cx="597.5" cy="224.1" r="5.7"/>
<circle cx="606.5" cy="224.1" r="5.7"/>
<circle cx="570.4" cy="232.3" r="5.5"/>
<circle cx="570.4" cy="239.9" r="5.5"/>
<circle cx="570.4" cy="247.6" r="5.5"/>
<circle cx="606.7" cy="232.3" r="5.4"/>
<circle cx="606.7" cy="239.4" r="5.4"/>
<circle cx="606.7" cy="246.5" r="5.4"/>
<circle cx="606.7" cy="253.6" r="5.4"/>
<circle cx="603.5" cy="255.4" r="3.7"/>
<circle cx="599.5" cy="255.6" r="3.7"/>
<rect x="567" y="219.8" width="43" height="9.500"/><rect x="565.800" y="224" width="9.500" height="24"/><rect x="602" y="224" width="9.200" height="30"/>
</g>
<path d="M575.2,229.5 q1.6,-2.6 3.3,0 q1.6,2 3.300,0 q1.600,-2.600 3.300,0 q1.600,2 3.300,0 q1.600,-2.600 3.300,0 q1.600,2 3.300,0 q1.600,-2.600 3.300,0 q1.600,2 3.500,0 L601.800,247.600 L575.200,247.600 Z" fill="#f3b6be" stroke="none"/>
<g stroke="#fbe3e6" stroke-width="1" fill="none"><path d="M575.4,233.600 L601.600,233.600 M575.400,237.300 L601.600,237.300 M575.400,241 L601.600,241 M575.400,244.700 L601.600,244.700"/></g>
<path d="M575.2,247.900 L601.800,247.900" stroke="#fdf3f4" stroke-width="0.7"/>
<path d="M581.6,256.0 C581.6,254.7 581.8,253.1 582.4,252.0 C583.0,250.9 584.0,250.0 585.0,249.4 C586.0,248.8 587.5,248.6 588.7,248.6 C589.9,248.6 591.4,248.8 592.4,249.4 C593.4,250.0 594.4,250.9 595.0,252.0 C595.6,253.1 595.8,254.7 595.8,256.0 C595.8,257.3 595.4,258.6 595.0,259.6 C594.6,260.6 593.5,259.9 593.2,262.0 C592.9,264.1 593.3,270.4 593.1,272.5 C592.9,274.6 592.7,274.2 592.0,274.6 C591.3,275.1 589.8,275.2 588.7,275.2 C587.6,275.2 586.1,275.1 585.4,274.6 C584.7,274.2 584.5,274.6 584.3,272.5 C584.1,270.4 584.5,264.1 584.2,262.0 C583.9,259.9 582.8,260.6 582.4,259.6 C582.0,258.6 581.6,257.3 581.6,256.0 Z" fill="#d9ab97" stroke="#f3ddd3" stroke-width="0.8"/>
<!-- labels -->
<text x="127.5" y="115.8" font-size="12.4" textLength="109" lengthAdjust="spacingAndGlyphs">Vliv na vývoj plodu</text>
<text x="131.2" y="140.4" font-size="11.4" textLength="142.2" lengthAdjust="spacingAndGlyphs">Opožděný vývoj mléčné žlázy</text>
<text x="129.8" y="164.6" font-size="11.4" textLength="146" lengthAdjust="spacingAndGlyphs">Snížená odpověď na očkování</text>
<text x="129.8" y="188.0" font-size="11.4" textLength="90.8" lengthAdjust="spacingAndGlyphs">Nižší porodní váha</text>
<text x="128.6" y="212.7" font-size="11.4" textLength="37.7" lengthAdjust="spacingAndGlyphs">Obezita</text>
<text x="128.6" y="239.4" font-size="11.4" textLength="106.8" lengthAdjust="spacingAndGlyphs">Časný nástup puberty</text>
<text x="145.7" y="269.0" font-size="11.4" textLength="68.6" lengthAdjust="spacingAndGlyphs">Riziko potratu</text>
<text x="145.7" y="297.6" font-size="11.4" textLength="95.7" lengthAdjust="spacingAndGlyphs">Nízký počet spermií</text>
<text x="145.7" y="311.0" font-size="11.4" textLength="89.6" lengthAdjust="spacingAndGlyphs">a nižší pohyblivost</text>
<text x="428.0" y="56.8" font-size="11.4" textLength="62.8" lengthAdjust="spacingAndGlyphs">Onemocnění</text>
<text x="431.4" y="72.0" font-size="11.4" textLength="55.1" lengthAdjust="spacingAndGlyphs">štítné žlázy</text>
<text x="421.4" y="95.2" font-size="11.4" textLength="75.6" lengthAdjust="spacingAndGlyphs">Zvýšení hladiny</text>
<text x="428.8" y="109.0" font-size="11.4" textLength="60.8" lengthAdjust="spacingAndGlyphs">cholesterolu</text>
<text x="424.4" y="135.0" font-size="11.4" textLength="69.1" lengthAdjust="spacingAndGlyphs">Rakovina prsu</text>
<text x="424.4" y="164.5" font-size="11.4" textLength="74.4" lengthAdjust="spacingAndGlyphs">Poškození jater</text>
<text x="421.4" y="199.3" font-size="11.4" textLength="77.4" lengthAdjust="spacingAndGlyphs">Rakovina ledvin</text>
<text x="429.8" y="248.9" font-size="11.4" textLength="54.7" lengthAdjust="spacingAndGlyphs">Zánět střev</text>
<text x="418.8" y="277.5" font-size="11.4" textLength="76.2" lengthAdjust="spacingAndGlyphs">Rakovina varlat</text>
<text x="430.5" y="304.0" font-size="11.4" textLength="54" lengthAdjust="spacingAndGlyphs">Problémy s</text>
<text x="425.2" y="318.8" font-size="11.4" textLength="64.2" lengthAdjust="spacingAndGlyphs">otěhotněním</text>
<text x="419" y="344.7" font-size="11.4" textLength="81" lengthAdjust="spacingAndGlyphs">Vyšší krevní tlak</text>
<text x="413.8" y="358.8" font-size="11.4" textLength="93.2" lengthAdjust="spacingAndGlyphs">během těhotenství</text>
<!-- arrows -->
<g stroke="#000" stroke-width="2" fill="none">
<line x1="284.5" y1="139.5" x2="303.5" y2="197.5" marker-end="url(#ah2)"/>
<line x1="263" y1="173" x2="304" y2="203.5" marker-end="url(#ah2)"/>
<line x1="230" y1="191.2" x2="285" y2="200.5" marker-end="url(#ah2)"/>
<line x1="419.8" y1="70.7" x2="335.5" y2="99.2" marker-end="url(#ah2)"/>
<line x1="497.2" y1="70.7" x2="584.6" y2="98" marker-end="url(#ah2)"/>
<line x1="416.7" y1="96.3" x2="328" y2="129.8" marker-end="url(#ah2)"/>
<line x1="509" y1="99.9" x2="598" y2="126.2" marker-end="url(#ah2)"/>
<line x1="419.8" y1="163" x2="321.3" y2="166.9" marker-end="url(#ah2)"/>
<line x1="512.3" y1="160.8" x2="569.1" y2="157.5" marker-end="url(#ah2)"/>
<line x1="409.5" y1="194" x2="345.5" y2="196.3" marker-end="url(#ah2)"/>
<line x1="509.3" y1="196.5" x2="568.7" y2="203" marker-end="url(#ah2)"/>
<line x1="506.2" y1="272.6" x2="584.2" y2="257" marker-end="url(#ah2)"/>
</g>
<g stroke="#000" stroke-width="1.95" fill="none" stroke-dasharray="1.95 2">
<line x1="178.6" y1="212.6" x2="283" y2="211.6" stroke-dasharray="1.7 1.7" marker-end="url(#ah3)"/>
<line x1="236.3" y1="231" x2="283" y2="219.4" marker-end="url(#ah3)"/>
<line x1="234.5" y1="263.3" x2="283" y2="234.6" marker-end="url(#ah3)"/>
<line x1="254.3" y1="292" x2="295" y2="235.5" marker-end="url(#ah3)"/>
<line x1="412.8" y1="135" x2="310.1" y2="152.6" marker-end="url(#ah3)"/>
<line x1="427" y1="249.6" x2="344.6" y2="225" marker-end="url(#ah3)"/>
<line x1="496" y1="242.6" x2="585.3" y2="222.4" marker-end="url(#ah3)"/>
<line x1="397.4" y1="299.6" x2="320.8" y2="244.2" marker-end="url(#ah3)"/>
<line x1="397.4" y1="340.5" x2="316.5" y2="247.5" marker-end="url(#ah3)"/>
</g>
</svg>
</body></html>
